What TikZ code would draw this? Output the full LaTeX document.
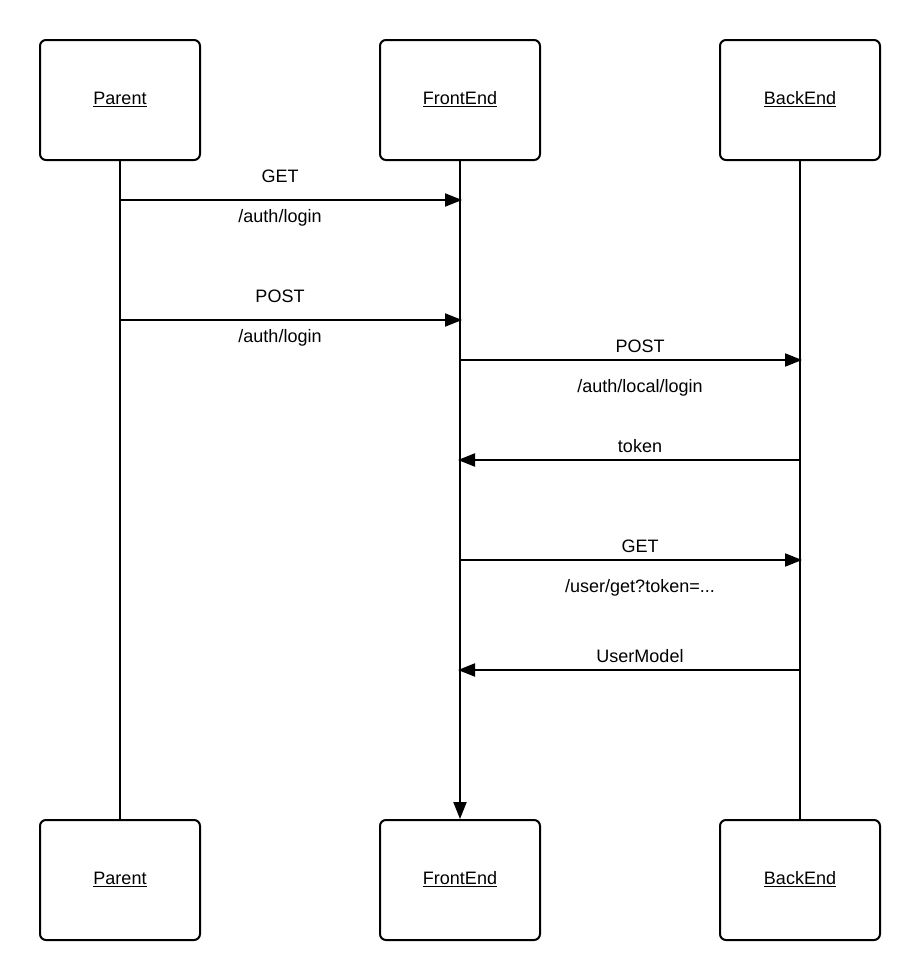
\documentclass[tikz,border=0pt]{standalone}
\usepackage{fontspec}
\setmainfont{Liberation Sans}
\usetikzlibrary{arrows.meta}
\begin{document}
\begin{tikzpicture}[x=1pt,y=-1pt,
  actor/.style={draw,line width=2pt,rounded corners=6pt,minimum width=160pt,minimum height=120pt,
    inner sep=0pt,text height=13pt,text depth=4pt,font=\fontsize{18}{20}\selectfont},
  life/.style={line width=2pt},
  msg/.style={line width=2pt,-{Triangle[length=17pt,width=13pt]}},
  lbl/.style={font=\fontsize{18}{20}\selectfont,inner sep=0pt,text height=13pt,text depth=4pt}]
\useasboundingbox (0,0) rectangle (920,980);
% participant boxes, top and bottom
\node[actor] (pt) at (120,100) {\underline{Parent}};
\node[actor] (ft) at (460,100) {\underline{FrontEnd}};
\node[actor] (bt) at (800,100) {\underline{BackEnd}};
\node[actor] (pb) at (120,880) {\underline{Parent}};
\node[actor] (fb) at (460,880) {\underline{FrontEnd}};
\node[actor] (bb) at (800,880) {\underline{BackEnd}};
% lifelines
\draw[life] (pt.south) -- (pb.north);
\draw[msg] (ft.south) -- (fb.north);
\draw[life] (bt.south) -- (bb.north);
% message anchor points on the lifelines
\coordinate (p1) at (120,200); \coordinate (f1) at (462,200);
\coordinate (p2) at (120,320); \coordinate (f2) at (462,320);
\coordinate (f3) at (460,360); \coordinate (b3) at (802,360);
\coordinate (b4) at (800,460); \coordinate (f4) at (458,460);
\coordinate (f5) at (460,560); \coordinate (b5) at (802,560);
\coordinate (b6) at (800,670); \coordinate (f6) at (458,670);
% messages
\draw[msg] (p1) -- (f1);
\draw[msg] (p2) -- (f2);
\draw[msg] (f3) -- (b3);
\draw[msg] (b4) -- (f4);
\draw[msg] (f5) -- (b5);
\draw[msg] (b6) -- (f6);
% labels
\node[lbl] (l1a) at (280,178) {GET};
\node[lbl] (l1b) at (280,218) {/auth/login};
\node[lbl] (l2a) at (280,298) {POST};
\node[lbl] (l2b) at (280,338) {/auth/login};
\node[lbl] (l3a) at (640,348) {POST};
\node[lbl] (l3b) at (640,388) {/auth/local/login};
\node[lbl] (l4a) at (640,448) {token};
\node[lbl] (l5a) at (640,548) {GET};
\node[lbl] (l5b) at (640,588) {/user/get?token=...};
\node[lbl] (l6a) at (640,658) {UserModel};
\end{tikzpicture}
\end{document}
